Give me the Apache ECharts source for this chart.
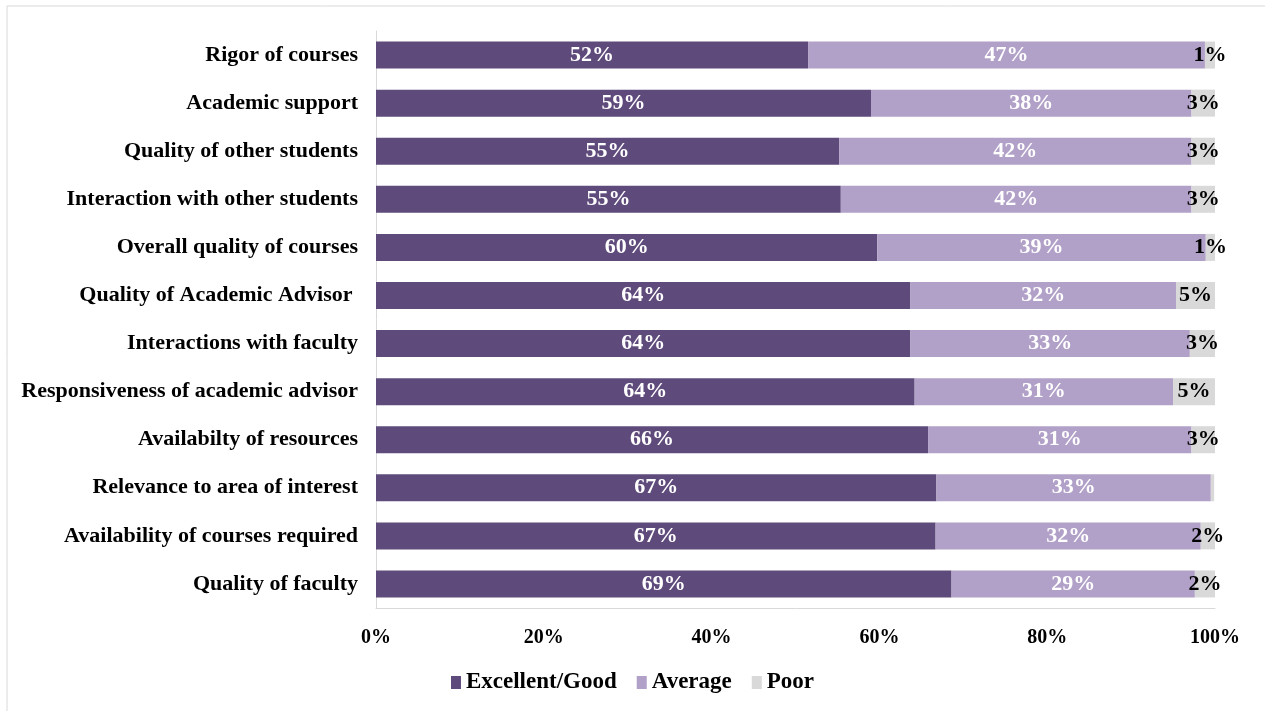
<!DOCTYPE html>
<html>
<head>
<meta charset="utf-8">
<script src="https://cdn.jsdelivr.net/npm/echarts@6/dist/echarts.min.js"></script>
<style>
html,body{margin:0;padding:0;background:#fff;}
#chart{width:1265px;height:711px;}
</style>
</head>
<body>
<div id="chart"></div>
<script>
const categories = [
  "Rigor of courses",
  "Academic support",
  "Quality of other students",
  "Interaction with other students",
  "Overall quality of courses",
  "Quality of Academic Advisor ",
  "Interactions with faculty",
  "Responsiveness of academic advisor",
  "Availabilty of resources",
  "Relevance to area of interest",
  "Availability of courses required",
  "Quality of faculty"
];
const excellentGood = [51.5, 59.0, 55.2, 55.4, 59.75, 63.7, 63.7, 64.2, 65.8, 66.8, 66.7, 68.6];
const average      = [47.3, 38.2, 42.0, 41.8, 39.15, 31.65, 33.3, 30.8, 31.4, 32.7, 31.6, 29.0];
const poor         = [1.2, 2.8, 2.8, 2.8, 1.1, 4.65, 3.0, 5.0, 2.8, 0.4, 1.7, 2.4];
const seriesNames = ["Excellent/Good", "Average", "Poor"];
const xTicks = [0, 20, 40, 60, 80, 100];

const serif = "'Liberation Serif', 'DejaVu Serif', serif";
const fmt = p => { const r = Math.round(p.value); return r < 1 ? '' : r + '%'; };
function mk(name, data, color, labelColor) {
  return {
    name, type: 'bar', stack: 'total', data, barWidth: 27,
    itemStyle: { color },
    label: { show: true, position: 'inside', formatter: fmt, color: labelColor,
      fontFamily: serif, fontWeight: 'bold', fontSize: 22 }
  };
}
const chart = echarts.init(document.getElementById('chart'));
chart.setOption({
  animation: false,
  backgroundColor: '#fff',
  graphic: [
    { type: 'line', shape: { x1: 7, y1: 6, x2: 1265, y2: 6 }, style: { stroke: '#d9d9d9', lineWidth: 1 } },
    { type: 'line', shape: { x1: 7, y1: 6, x2: 7, y2: 711 }, style: { stroke: '#d9d9d9', lineWidth: 1 } }
  ],
  grid: { left: 376, right: 50, top: 31, bottom: 103, containLabel: false },
  legend: {
    data: seriesNames, bottom: 12, left: 'center',
    icon: 'rect', itemWidth: 10, itemHeight: 13, itemGap: 20,
    textStyle: { fontFamily: serif, fontWeight: 'bold', fontSize: 23, color: '#000', padding: [0,0,0,0] }
  },
  xAxis: {
    type: 'value', min: 0, max: 100, interval: 20,
    axisLabel: { formatter: v => xTicks.includes(v) ? v + '%' : '', fontFamily: serif, fontWeight: 'bold', fontSize: 20, color: '#000', margin: 20 },
    splitLine: { show: false },
    axisLine: { show: true, lineStyle: { color: '#d9d9d9' } },
    axisTick: { show: false }
  },
  yAxis: {
    type: 'category', data: categories, inverse: true,
    axisLabel: { fontFamily: serif, fontWeight: 'bold', fontSize: 22, color: '#000', margin: 18 },
    axisLine: { show: true, lineStyle: { color: '#d9d9d9' } },
    axisTick: { show: false }
  },
  series: [
    mk(seriesNames[0], excellentGood, '#5E4A7B', '#fff'),
    mk(seriesNames[1], average, '#B1A0C7', '#fff'),
    mk(seriesNames[2], poor, '#D9D9D9', '#000')
  ]
});
</script>
</body>
</html>
